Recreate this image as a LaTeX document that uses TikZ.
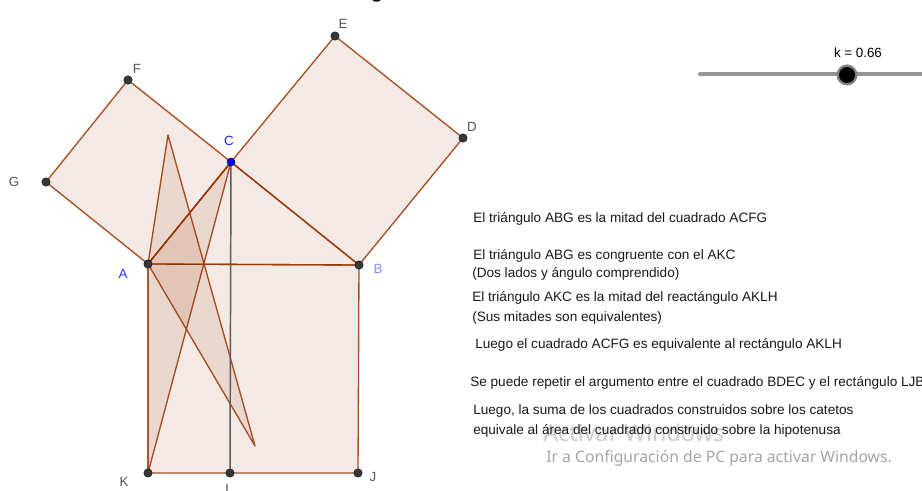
\documentclass[tikz,border=0pt]{standalone}
\usepackage{fontspec}
\setmainfont{Liberation Sans}
\newfontfamily\winfont{Noto Sans}

\begin{document}
\begin{tikzpicture}[x=0.75pt,y=0.75pt,yscale=-1,xscale=1,
  poly/.style={draw={rgb, 255:red, 153; green, 51; blue, 0 },draw opacity=0.85,line width=1pt,line join=round,
    fill={rgb, 255:red, 153; green, 51; blue, 0 },fill opacity=0.1},
  dot/.style={fill={rgb, 255:red, 55; green, 55; blue, 55 },draw={rgb, 255:red, 30; green, 30; blue, 30 },line width=0.4pt},
  lbl/.style={font=\fontsize{10}{12}\selectfont,text={rgb, 255:red, 85; green, 85; blue, 85 },inner sep=0pt},
  txt/.style={font=\fontsize{10.2}{12}\selectfont,text={rgb, 255:red, 25; green, 25; blue, 25 },anchor=west,inner sep=0pt}]
\clip (0,0) rectangle (922,491);
\fill [white] (0,0) rectangle (922,491);

%Points
\coordinate (A) at (148,264);
\coordinate (B) at (359,265);
\coordinate (C) at (231,162);
\coordinate (D) at (463,138);
\coordinate (E) at (335,36);
\coordinate (F) at (128,80);
\coordinate (G) at (46,182);
\coordinate (K) at (148,473);
\coordinate (L) at (230,473);
\coordinate (J) at (358,473);
\coordinate (Gr) at (168,135);
\coordinate (Br) at (255,446);

%Shape: Square ACFG
\draw [poly] (A) -- (C) -- (F) -- (G) -- cycle;
%Shape: Square BDEC
\draw [poly] (B) -- (D) -- (E) -- (C) -- cycle;
%Shape: Square ABJK
\draw [poly] (A) -- (B) -- (J) -- (K) -- cycle;
%Shape: Triangle ABC
\draw [poly] (A) -- (B) -- (C) -- cycle;
%Shape: Triangle AKC
\draw [poly] (A) -- (K) -- (C) -- cycle;
%Shape: Triangle ABG turned
\draw [poly] (A) -- (Br) -- (Gr) -- cycle;

%Straight Lines
\draw [color={rgb, 255:red, 90; green, 90; blue, 90 },line width=1.1pt] (C) -- (L);

%Shape: Circles
\foreach \p in {A,B,D,E,F,G,K,L,J}
  \draw [dot] (\p) circle (4.2);
\draw [fill={rgb, 255:red, 0; green, 0; blue, 255 },draw={rgb, 255:red, 20; green, 20; blue, 60 },line width=0.4pt] (C) circle (4);

% Text Node
\node (lE) [lbl] at (343,24) {E};
\node (lF) [lbl] at (137,69) {F};
\node (lG) [lbl] at (14,182) {G};
\node (lD) [lbl] at (472,127) {D};
\node (lC) [lbl,text={rgb, 255:red, 30; green, 30; blue, 255 }] at (229,141) {C};
\node (lA) [lbl,text={rgb, 255:red, 50; green, 50; blue, 255 }] at (123,274) {A};
\node (lB) [lbl,text={rgb, 255:red, 140; green, 140; blue, 255 }] at (378,269) {B};
\node (lK) [lbl] at (124,482) {K};
\node (lL) [lbl,anchor=north] at (229,484) {L};
\node (lJ) [lbl] at (373,477) {J};

%Slider
\draw [color={rgb, 255:red, 150; green, 150; blue, 150 },line width=3pt,line cap=round] (700,74) -- (922,74);
\coordinate (knob) at (847,75);
\fill [color={rgb, 255:red, 130; green, 130; blue, 130 }] (knob) circle (10.5);
\fill [black] (knob) circle (8);
\node (lk) [lbl,text=black] at (858,53) {k = 0.66};

%Title (cut)
\node (title) [anchor=base,inner sep=0pt,font=\fontsize{17}{20}\selectfont] at (377,-2) {g};

%Watermark
\node (wm1) [anchor=west,inner sep=0pt,font=\winfont\fontsize{17.5}{20}\selectfont,text={rgb, 255:red, 205; green, 205; blue, 205 }] at (543,433) {Activar Windows};
\node (wm2) [anchor=west,inner sep=0pt,font=\winfont\fontsize{11.8}{14}\selectfont,text={rgb, 255:red, 165; green, 165; blue, 165 }] at (546,458) {Ir a Configuración de PC para activar Windows.};

% Text Node
\node (t1) [txt] at (473,219) {El triángulo ABG es la mitad del cuadrado ACFG};
\node (t2) [txt] at (473,256) {El triángulo ABG es congruente con el AKC};
\node (t3) [txt] at (472,274) {(Dos lados y ángulo comprendido)};
\node (t4) [txt] at (472,298) {El triángulo AKC es la mitad del reactángulo AKLH};
\node (t5) [txt] at (472,318) {(Sus mitades son equivalentes)};
\node (t6) [txt] at (475,345) {Luego el cuadrado ACFG es equivalente al rectángulo AKLH};
\node (t7) [txt] at (470,383) {Se puede repetir el argumento entre el cuadrado BDEC y el rectángulo LJB};
\node (t8) [txt] at (473,411) {Luego, la suma de los cuadrados construidos sobre los catetos};
\node (t9) [txt] at (473,431) {equivale al área del cuadrado construido sobre la hipotenusa};

\end{tikzpicture}
\end{document}
